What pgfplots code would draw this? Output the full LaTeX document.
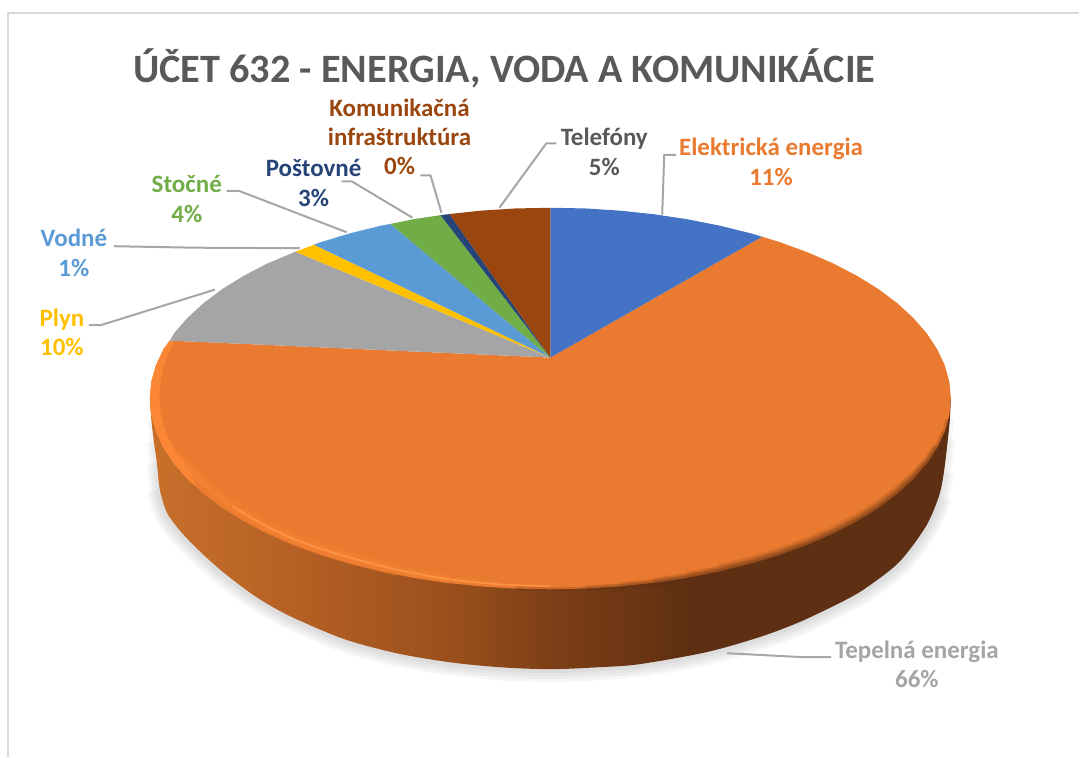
\documentclass[border=0pt]{standalone}
\usepackage{pgfplots}
\usepackage{pgfplotstable}
\usepackage{fontspec}
\pgfplotsset{compat=1.18}
\setmainfont{Carlito}

\definecolor{cblue}{HTML}{4472C4}
\definecolor{corange}{HTML}{E97A2F}
\definecolor{cgray}{HTML}{A5A5A5}
\definecolor{cyellow}{HTML}{FFC000}
\definecolor{cltblue}{HTML}{5B9BD5}
\definecolor{cgreen}{HTML}{70AD47}
\definecolor{cnavy}{HTML}{264478}
\definecolor{cbrown}{HTML}{9A460E}
\definecolor{ctitle}{HTML}{595959}
\definecolor{clead}{HTML}{A6A6A6}
\definecolor{cframe}{HTML}{D9D9D9}
\definecolor{cdark}{HTML}{5E2F12}
\definecolor{clight}{HTML}{FA8636}
\definecolor{cridge}{HTML}{FF9A4C}
\definecolor{wa}{HTML}{C8702B}
\definecolor{wb}{HTML}{B45F24}
\definecolor{wc}{HTML}{9A501C}
\definecolor{wd}{HTML}{7E3F17}

\pgfdeclarehorizontalshading{sidewall}{100bp}{
  color(0bp)=(wa);
  color(25bp)=(wa);
  color(34.4bp)=(wb);
  color(43.7bp)=(wc);
  color(50bp)=(wd);
  color(58.7bp)=(cdark);
  color(75bp)=(cdark);
  color(100bp)=(cdark)}

% lower edge of the pie wall, pixels of the reference
\pgfplotstableread{
x y
150 399
151.5 420
154 442
157 463
160 490
167 513
180 531
197 549
220 570
247 591
270 606
297 620
345 640
397 654
450 663
500 668
551 670
600 668
640 665
707 653
760 638
800 623
840 604
865 590
900 563
927 527
940 497
945 473
949 440
951 420
952 399
}\bottomarc

% light ridge along the rim, lower left
\pgfplotstableread{
x y
177 455
200 480
233 507
267 527
300 542
333 553
357 560
400 571
450 580
500 585
551 587
}\ridge

\tikzset{
  lbl/.style={font=\fontsize{25}{29.5}\selectfont\bfseries, align=center, anchor=center},
  leader/.style={draw=clead, line width=2pt, line join=round},
}
\pgfplotsset{
  shadowline/.style={draw=black, draw opacity=0.035, no marks, smooth},
  rimshade/.style={draw=cdark, line cap=butt, line join=round},
}

\begin{document}
\begin{tikzpicture}
\begin{axis}[
    scale only axis,
    width=1080pt,
    height=758pt,
    xmin=0, xmax=1080,
    ymin=0, ymax=758,
    y dir=reverse,
    axis lines=none,
    clip=false,
]
\path (axis cs:0,0) (axis cs:1080,758);
% frame
\addplot[draw=cframe, line width=2.6pt] coordinates {(7,13) (1080,13)};
\addplot[draw=cframe, line width=1.3pt] coordinates {(8,13) (8,758)};

% soft shadow
\addplot[shadowline, line width=26pt, skip coords between index={0}{4}, skip coords between index={27}{31}] table {\bottomarc};
\addplot[shadowline, line width=20pt, skip coords between index={0}{3}, skip coords between index={28}{31}] table {\bottomarc};
\addplot[shadowline, line width=14pt, skip coords between index={0}{2}, skip coords between index={29}{31}] table {\bottomarc};
\addplot[shadowline, line width=8pt, skip coords between index={0}{1}, skip coords between index={30}{31}] table {\bottomarc};

% wall
\addplot[draw=none, shade, shading=sidewall, smooth] table {\bottomarc};

% Tepelna energia
\addplot[fill=corange, draw=none] coordinates {
 (551,358) (763,237) (781,242.5) (808.8,252.7) (834.5,263.9) (858.2,276.2)
 (879.5,289.4) (898.3,303.5) (914.4,318.3) (927.8,333.7) (938.3,349.6)
 (945.9,365.8) (950.5,382.3) (952,399) (950.5,415.7) (945.9,432.2) (938.3,448.4)
 (927.8,464.3) (914.4,479.7) (898.3,494.5) (879.5,508.6) (858.2,521.8) (834.5,534.1)
 (808.8,545.3) (781,555.5) (751.5,564.4) (720.5,572.1) (688.1,578.5) (654.8,583.5)
 (620.6,587.1) (586,589.3) (551,590) (516,589.3) (481.4,587.1) (447.2,583.5)
 (413.9,578.5) (381.5,572.1) (350.5,564.4) (321,555.5) (293.2,545.3) (267.5,534.1)
 (243.8,521.8) (222.5,508.6) (203.7,494.5) (187.6,479.7) (174.2,464.3) (163.7,448.4)
 (156.1,432.2) (151.5,415.7) (150,399) (151.5,382.3) (156.1,365.8) (163.7,349.6) (170,341)
};
% bevel of the rim, light on the left
\addplot[fill=clight, draw=none] coordinates {
 (170,341) (163.7,349.6) (156.1,365.8) (151.5,382.3) (150,399) (151.5,415.7) (156.1,432.2)
 (163.7,448.4) (174.2,464.3) (187.6,479.7) (196,487) (191,473)
 (177,455) (166,434) (161,416) (159,397) (162,372) (168,354) (174,342)
};
\addplot[draw=clight, draw opacity=0.45, line width=2.5pt, smooth] coordinates {
 (191,473) (177,455) (166,434) (161,416) (159,397) (162,372) (168,354) (174,342)
};
\addplot[draw=clight, draw opacity=0.2, line width=13pt, smooth, skip coords between index={8}{11}] table {\ridge};
\addplot[draw=clight, draw opacity=0.28, line width=9pt, smooth, skip coords between index={9}{11}] table {\ridge};
\addplot[draw=clight, draw opacity=0.4, line width=5pt, smooth, skip coords between index={10}{11}] table {\ridge};
\addplot[draw=cridge, draw opacity=0.8, line width=1.6pt, smooth, skip coords between index={0}{2}] table {\ridge};
% bevel of the rim, dark on the right
\addplot[rimshade, draw opacity=0.09, line width=15pt] coordinates {
 (720.5,572.1) (751.5,564.4) (781,555.5) (808.8,545.3) (834.5,534.1)
 (858.2,521.8) (879.5,508.6) (898.3,494.5) (914.4,479.7)
};
\addplot[rimshade, draw opacity=0.10, line width=12pt] coordinates {
 (688.1,578.5) (720.5,572.1) (751.5,564.4) (781,555.5) (808.8,545.3) (834.5,534.1)
 (858.2,521.8) (879.5,508.6) (898.3,494.5) (914.4,479.7) (927.8,464.3)
};
\addplot[rimshade, draw opacity=0.12, line width=10pt] coordinates {
 (654.8,583.5) (688.1,578.5) (720.5,572.1) (751.5,564.4) (781,555.5) (808.8,545.3) (834.5,534.1)
 (858.2,521.8) (879.5,508.6) (898.3,494.5) (914.4,479.7) (927.8,464.3) (938.3,448.4)
};
\addplot[rimshade, draw opacity=0.13, line width=8pt] coordinates {
 (620.6,587.1) (654.8,583.5) (688.1,578.5) (720.5,572.1) (751.5,564.4) (781,555.5) (808.8,545.3)
 (834.5,534.1) (858.2,521.8) (879.5,508.6) (898.3,494.5) (914.4,479.7) (927.8,464.3) (938.3,448.4)
};
\addplot[rimshade, draw opacity=0.16, line width=6pt] coordinates {
 (586,589.3) (620.6,587.1) (654.8,583.5) (688.1,578.5) (720.5,572.1) (751.5,564.4) (781,555.5)
 (808.8,545.3) (834.5,534.1) (858.2,521.8) (879.5,508.6) (898.3,494.5) (914.4,479.7) (927.8,464.3)
 (938.3,448.4) (945.9,432.2)
};
\addplot[rimshade, draw opacity=0.22, line width=4pt] coordinates {
 (516,589.3) (551,590) (586,589.3) (620.6,587.1) (654.8,583.5) (688.1,578.5) (720.5,572.1)
 (751.5,564.4) (781,555.5) (808.8,545.3) (834.5,534.1) (858.2,521.8) (879.5,508.6) (898.3,494.5)
 (914.4,479.7) (927.8,464.3) (938.3,448.4) (945.9,432.2) (948.5,420)
};

% Elektricka energia
\addplot[fill=cblue, draw=none] coordinates {
 (551,358) (551,208) (586,208.7) (620.6,210.9) (654.8,214.5) (688.1,219.5)
 (720.5,225.9) (751.5,233.6) (763,237)
};
% Plyn
\addplot[fill=cgray, draw=none] coordinates {
 (551,358) (170,341) (174.2,333.7) (187.6,318.3) (203.7,303.5) (222.5,289.4)
 (243.8,276.2) (267.5,263.9) (295.7,252)
};
% Vodne
\addplot[fill=cyellow, draw=none] coordinates {
 (551,358) (295.7,252) (314.3,245)
};
% Stocne
\addplot[fill=cltblue, draw=none] coordinates {
 (551,358) (314.3,245) (321,242.5) (350.5,233.6) (381.5,225.9) (391,224.2)
};
% Postovne
\addplot[fill=cgreen, draw=none] coordinates {
 (551,358) (391,224.2) (413.9,219.5) (441,215.4)
};
% Komunikacna infrastruktura
\addplot[fill=cnavy, draw=none] coordinates {
 (551,358) (441,215.4) (450,214.3)
};
% Telefony
\addplot[fill=cbrown, draw=none] coordinates {
 (551,358) (450,214.3) (481.4,210.9) (516,208.7) (551,208)
};

% leader lines
\addplot[leader] coordinates {(557,143.5) (547,143.5) (500,208)};
\addplot[leader] coordinates {(677,155) (665,155) (663,215)};
\addplot[leader] coordinates {(421,175.5) (431,175.5) (442,213)};
\addplot[leader] coordinates {(342,181.5) (352,181.5) (413,218)};
\addplot[leader] coordinates {(227,191) (239,191) (347,232.5)};
\addplot[leader] coordinates {(114,246.5) (195,248) (300,248.5)};
\addplot[leader] coordinates {(89,325.5) (101,325.5) (215,290)};
\addplot[leader] coordinates {(832,658) (805,658) (728,654)};

% title and labels
\node[font=\fontsize{40.3}{44}\selectfont\bfseries, text=ctitle, anchor=center]
  at (axis cs:505,68) {ÚČET 632 - ENERGIA, VODA A KOMUNIKÁCIE};
\node[lbl, text=cbrown] at (axis cs:400,137) {Komunikačná\\infraštruktúra\\0\%};
\node[lbl, text=ctitle] at (axis cs:605,152) {Telefóny\\5\%};
\node[lbl, text=corange] at (axis cs:772,162) {Elektrická energia\\11\%};
\node[lbl, text=cnavy] at (axis cs:314,183) {Poštovné\\3\%};
\node[lbl, text=cgreen] at (axis cs:187,199) {Stočné\\4\%};
\node[lbl, text=cltblue] at (axis cs:74,253) {Vodné\\1\%};
\node[lbl, text=cyellow] at (axis cs:62,333) {Plyn\\10\%};
\node[lbl, text=cgray] at (axis cs:918,665) {Tepelná energia\\66\%};
\end{axis}
\end{tikzpicture}
\end{document}
